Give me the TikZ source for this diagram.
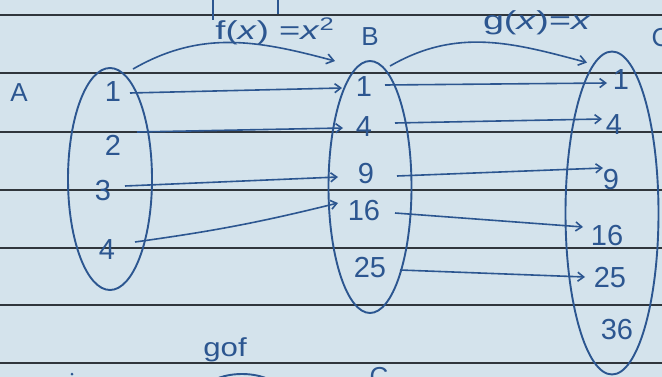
\documentclass[tikz,border=0pt]{standalone}
\usepackage{fontspec}
\setmainfont{Liberation Sans}
\usetikzlibrary{arrows.meta,shapes.geometric}
\definecolor{paper}{HTML}{D4E3EC}
\definecolor{rule}{HTML}{30363C}
\definecolor{ink}{HTML}{2C5690}
\tikzset{
  ruleline/.style={rule, line width=1.6pt},
  setshape/.style={draw=ink, line width=1.9pt, ellipse, inner sep=0pt},
  elem/.style={text=ink, inner sep=0pt, font=\fontsize{29}{30}\selectfont},
  lbl/.style={text=ink, inner sep=0pt, font=\fontsize{26}{28}\selectfont},
  maparrow/.style={draw=ink, line width=1.6pt, -{Straight Barb[length=6pt,width=9pt]}},
  funcarc/.style={draw=ink, line width=1.6pt, -{Straight Barb[length=7pt,width=10pt]}},
}
\begin{document}
\begin{tikzpicture}[x=1pt,y=-1pt]
\useasboundingbox (0,0) rectangle (662,377);
\clip (0,0) rectangle (662,377);
\fill[paper] (0,0) rectangle (662,377);
% ruled lines
\foreach \yy in {15,73,132,190,248,305,363}
  \draw[ruleline] (0,\yy) -- (662,\yy);
% stray strokes at top
\draw[ink, line width=1.5pt] (213,0) -- (213,20);
\draw[ink, line width=1.5pt] (278,0) -- (278,14);
% sets
\node[setshape, minimum width=84pt, minimum height=222pt] (SA) at (110,179) {};
\node[setshape, minimum width=83pt, minimum height=252pt] (SB) at (370,187) {};
\node[setshape, minimum width=93pt, minimum height=323pt] (SC) at (612,213) {};
% set labels
\node[lbl] (LA) at (19,93) {A};
\node[lbl] (LB) at (370,37) {B};
\node[lbl] (LC) at (661,38) {C};
% function labels
\node[lbl] (Lf) at (275,31) {\scalebox{1.4}[1]{f(\textit{x}) =\textit{x}\textsuperscript{2}}};
\node[lbl] (Lg) at (537,23) {\scalebox{1.45}[1]{g(\textit{x})=\textit{x}}};
% elements of A
\node[elem] (a1) at (113,92) {1};
\node[elem] (a2) at (113,145) {2};
\node[elem] (a3) at (103,191) {3};
\node[elem] (a4) at (107,250) {4};
% elements of B
\node[elem] (b1) at (364,87) {1};
\node[elem] (b4) at (364,127) {4};
\node[elem] (b9) at (366,174) {9};
\node[elem] (b16) at (364,211) {16};
\node[elem] (b25) at (370,268) {25};
% elements of C
\node[elem] (c1) at (621,80) {1};
\node[elem] (c4) at (614,125) {4};
\node[elem] (c9) at (611,180) {9};
\node[elem] (c16) at (607,236) {16};
\node[elem] (c25) at (610,278) {25};
\node[elem] (c36) at (617,330) {36};
% f arrows
\draw[maparrow] ([shift={(17,1)}]a1.center) -- ([shift={(-22,1)}]b1.center);
\draw[maparrow] ([shift={(24,-13)}]a2.center) -- ([shift={(-21,1)}]b4.center);
\draw[maparrow] ([shift={(22,-5)}]a3.center) -- ([shift={(-28,3)}]b9.center);
\draw[maparrow] ([shift={(28,-8)}]a4.center) to[bend right=3] ([shift={(-26,-8)}]b16.center);
% g arrows
\draw[maparrow] ([shift={(21,-2)}]b1.center) -- ([shift={(-14,3)}]c1.center);
\draw[maparrow] ([shift={(31,-4)}]b4.center) -- ([shift={(-12,-6)}]c4.center);
\draw[maparrow] ([shift={(31,2)}]b9.center) -- ([shift={(-8,-12)}]c9.center);
\draw[maparrow] ([shift={(31,2)}]b16.center) -- ([shift={(-24,-9)}]c16.center);
\draw[maparrow] ([shift={(30,2)}]b25.center) -- ([shift={(-25,-1)}]c25.center);
% curved function arrows
\draw[funcarc] ([shift={(23,2)}]SA.north) to[out=30,in=165] ([shift={(-35,1)}]SB.north);
\draw[funcarc] ([shift={(20,6)}]SB.north) to[out=30,in=165] ([shift={(-25,12)}]SC.north);
% bottom fragment
\node[lbl] (gof) at (225,350) {\scalebox{1.2}[1]{gof}};
\draw[ink, line width=1.9pt] (242,402) ellipse (46pt and 28pt);
\node[lbl] (Cbot) at (379,377) {C};
\fill[ink] (72,374) circle (1.5pt);
\end{tikzpicture}
\end{document}
